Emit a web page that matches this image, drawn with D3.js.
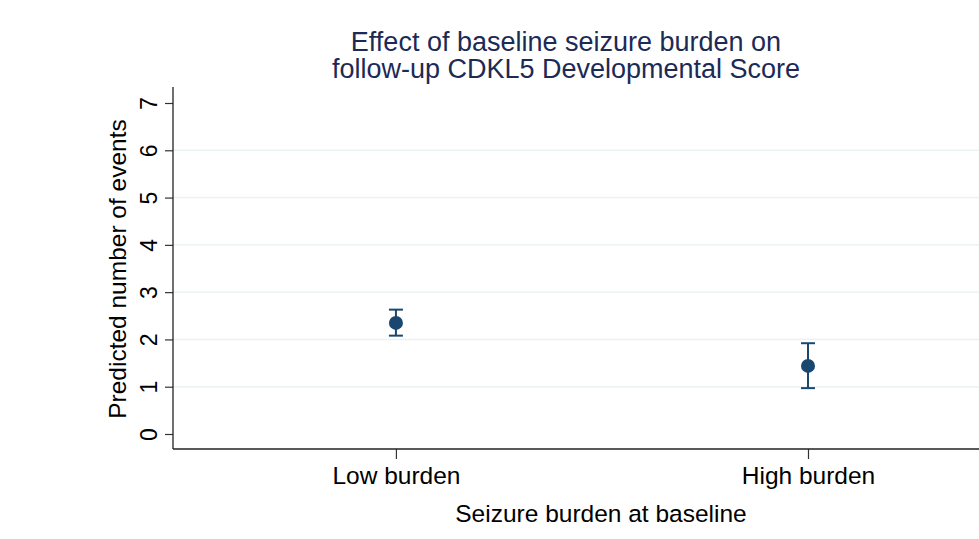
<!DOCTYPE html>
<html>
<head>
<meta charset="utf-8">
<script src="https://cdn.jsdelivr.net/npm/d3@7"></script>
<style>
  html, body { margin: 0; padding: 0; background: #ffffff; }
  svg { display: block; font-family: "Liberation Sans", Arial, Helvetica, sans-serif; }
</style>
</head>
<body>
<svg id="chart" width="979" height="539"></svg>
<script>
// Predictive margins by baseline seizure burden
const categories = ["Low burden", "High burden"];
const estimates = [2.35, 1.44];
const ciLower = [2.08, 0.97];
const ciUpper = [2.63, 1.92];
const yTicks = [0, 1, 2, 3, 4, 5, 6, 7];

const titleLines = ["Effect of baseline seizure burden on", "follow-up CDKL5 Developmental Score"];
const xTitle = "Seizure burden at baseline";
const yTitle = "Predicted number of events";

const plot = { left: 173, right: 979, top: 90, bottom: 449 };

const svg = d3.select("#chart");

const x = d3.scaleLinear().domain([0.459, 2.415]).range([plot.left, plot.right]);
const y = d3.scaleLinear().domain([0, 7]).range([434, 103]);

const navy = "#1a476f";
const titleColor = "#1c2a55";

// horizontal grid lines (interior ticks only)
svg.append("g")
  .selectAll("line")
  .data(yTicks.filter(d => d > 0 && d < 7))
  .join("line")
  .attr("x1", plot.left).attr("x2", plot.right)
  .attr("y1", d => y(d)).attr("y2", d => y(d))
  .attr("stroke", "#eaf2f3").attr("stroke-width", 1.5);

// y axis with vertical tick labels
const yAxis = d3.axisLeft(y).tickValues(yTicks).tickFormat(d3.format("d")).tickSize(8).tickSizeOuter(0);
const gy = svg.append("g").attr("transform", `translate(${plot.left},0)`).call(yAxis);
gy.select(".domain").remove();
gy.selectAll(".tick line").attr("stroke", "#333").attr("stroke-width", 1.2);
gy.selectAll(".tick text")
  .attr("fill", "#000")
  .style("font-size", "23px")
  .attr("text-anchor", "middle")
  .attr("transform", "rotate(-90)")
  .attr("x", 0)
  .attr("y", -16)
  .attr("dy", "0");

gy.append("line")
  .attr("x1", 0).attr("x2", 0)
  .attr("y1", plot.top - 3).attr("y2", plot.bottom)
  .attr("stroke", "#222").attr("stroke-width", 1.3);

// x axis
const xAxis = d3.axisBottom(x).tickValues([1, 2]).tickFormat((d, i) => categories[i]).tickSize(10).tickPadding(8).tickSizeOuter(0);
const gx = svg.append("g").attr("transform", `translate(0,${plot.bottom})`).call(xAxis);
gx.select(".domain").remove();
gx.append("line").attr("x1", plot.left).attr("x2", plot.right).attr("y1", 0).attr("y2", 0)
  .attr("stroke", "#222").attr("stroke-width", 1.3);
gx.selectAll(".tick line").attr("stroke", "#333").attr("stroke-width", 1.2);
gx.selectAll(".tick text").attr("fill", "#000").style("font-size", "24.5px");

// confidence intervals and point estimates
const pts = categories.map((c, i) => ({ c, x: i + 1, est: estimates[i], lo: ciLower[i], hi: ciUpper[i] }));
const g = svg.append("g");
const cap = 7;
g.selectAll("line.ci").data(pts).join("line").attr("class", "ci")
  .attr("x1", d => x(d.x)).attr("x2", d => x(d.x))
  .attr("y1", d => y(d.lo)).attr("y2", d => y(d.hi))
  .attr("stroke", navy).attr("stroke-width", 2);
g.selectAll("line.capHi").data(pts).join("line").attr("class", "capHi")
  .attr("x1", d => x(d.x) - cap).attr("x2", d => x(d.x) + cap)
  .attr("y1", d => y(d.hi)).attr("y2", d => y(d.hi))
  .attr("stroke", navy).attr("stroke-width", 2);
g.selectAll("line.capLo").data(pts).join("line").attr("class", "capLo")
  .attr("x1", d => x(d.x) - cap).attr("x2", d => x(d.x) + cap)
  .attr("y1", d => y(d.lo)).attr("y2", d => y(d.lo))
  .attr("stroke", navy).attr("stroke-width", 2);
g.selectAll("circle").data(pts).join("circle")
  .attr("cx", d => x(d.x)).attr("cy", d => y(d.est)).attr("r", 7)
  .attr("fill", navy);

// titles
svg.append("text")
  .attr("x", 566).attr("y", 51)
  .attr("text-anchor", "middle")
  .attr("fill", titleColor)
  .style("font-size", "27px")
  .selectAll("tspan").data(titleLines).join("tspan")
  .attr("x", 566).attr("dy", (d, i) => i === 0 ? 0 : 27)
  .text(d => d);

svg.append("text")
  .attr("x", 601).attr("y", 522)
  .attr("text-anchor", "middle")
  .attr("fill", "#000")
  .style("font-size", "24.5px")
  .text(xTitle);

svg.append("text")
  .attr("transform", `translate(126,269) rotate(-90)`)
  .attr("text-anchor", "middle")
  .attr("fill", "#000")
  .style("font-size", "24.5px")
  .text(yTitle);
</script>
</body>
</html>
